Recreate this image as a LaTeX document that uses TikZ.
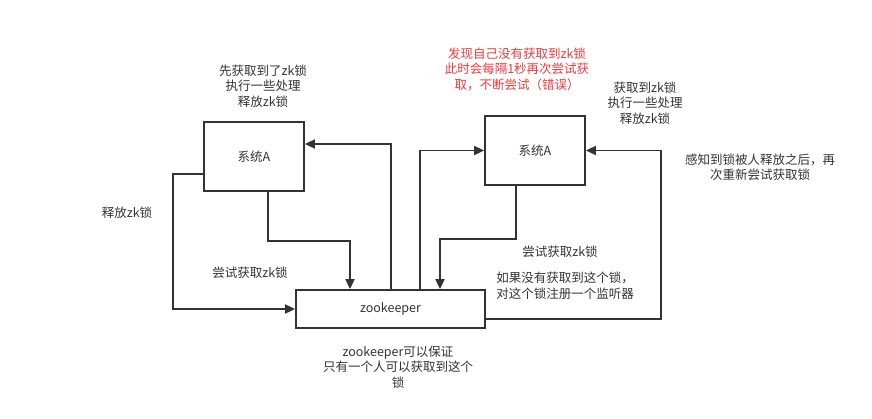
\documentclass[tikz,border=0pt]{standalone}
\usepackage{fontspec}
\newfontfamily\cjk{Noto Sans CJK SC}
\usetikzlibrary{arrows.meta}
\definecolor{ink}{HTML}{333333}
\definecolor{redtxt}{HTML}{F03A3A}
\tikzset{
  box/.style={draw=ink, line width=1.8pt, fill=white, inner sep=0pt, font=\cjk\fontsize{12.5}{15.5}\selectfont, text=ink},
  arr/.style={draw=ink, line width=1.8pt, -{Triangle[length=10pt,width=9pt]}},
  lbl/.style={font=\cjk\fontsize{12.5}{15.5}\selectfont, text=ink, align=center, inner sep=0pt},
  redlbl/.style={lbl, text=redtxt}
}
\begin{document}
\begin{tikzpicture}[x=1pt,y=-1pt]
\useasboundingbox (0,0) rectangle (872,418);
\node[box, minimum width=100pt, minimum height=69pt] (A1) at (254,156.5) {系统A};
\node[box, minimum width=100pt, minimum height=69pt] (A2) at (535,150.5) {系统A};
\node[box, minimum width=189pt, minimum height=38pt] (zk) at (390.5,309) {zookeeper};

\draw[arr] ([xshift=14pt]A1.south) -- ++(0,49) -| ([xshift=-40.5pt]zk.north);
\draw[arr] ([xshift=0.5pt]zk.north) |- ([yshift=12.5pt]A1.east);
\draw[arr] ([yshift=-17.5pt]A1.west) -- ++(-30,0) |- (zk.west);
\draw[arr] ([xshift=29.5pt]zk.north) |- (A2.west);
\draw[arr] ([xshift=-19pt]A2.south) -- ++(0,53) -| ([xshift=49.5pt]zk.north);
\draw[arr] ([yshift=-10pt]zk.east) -- ++(175,0) |- (A2.east);

\node[lbl] (t1) at (263,86) {先获取到了zk锁\\执行一些处理\\释放zk锁};
\node[lbl] (t2) at (127,213) {释放zk锁};
\node[lbl] (t3) at (250,273) {尝试获取zk锁};
\node[redlbl] (t4) at (517,69) {发现自己没有获取到zk锁\\此时会每隔1秒再次尝试获\\取，不断尝试（错误）};
\node[lbl] (t5) at (645,103) {获取到zk锁\\执行一些处理\\释放zk锁};
\node[lbl] (t6) at (760,167) {感知到锁被人释放之后，再\\次重新尝试获取锁};
\node[lbl] (t7) at (560,252) {尝试获取zk锁};
\node[lbl, align=left] (t8) at (565,285.5) {如果没有获取到这个锁，\\对这个锁注册一个监听器};
\node[lbl] (t9) at (398,367) {zookeeper可以保证\\只有一个人可以获取到这个\\锁};
\end{tikzpicture}
\end{document}
